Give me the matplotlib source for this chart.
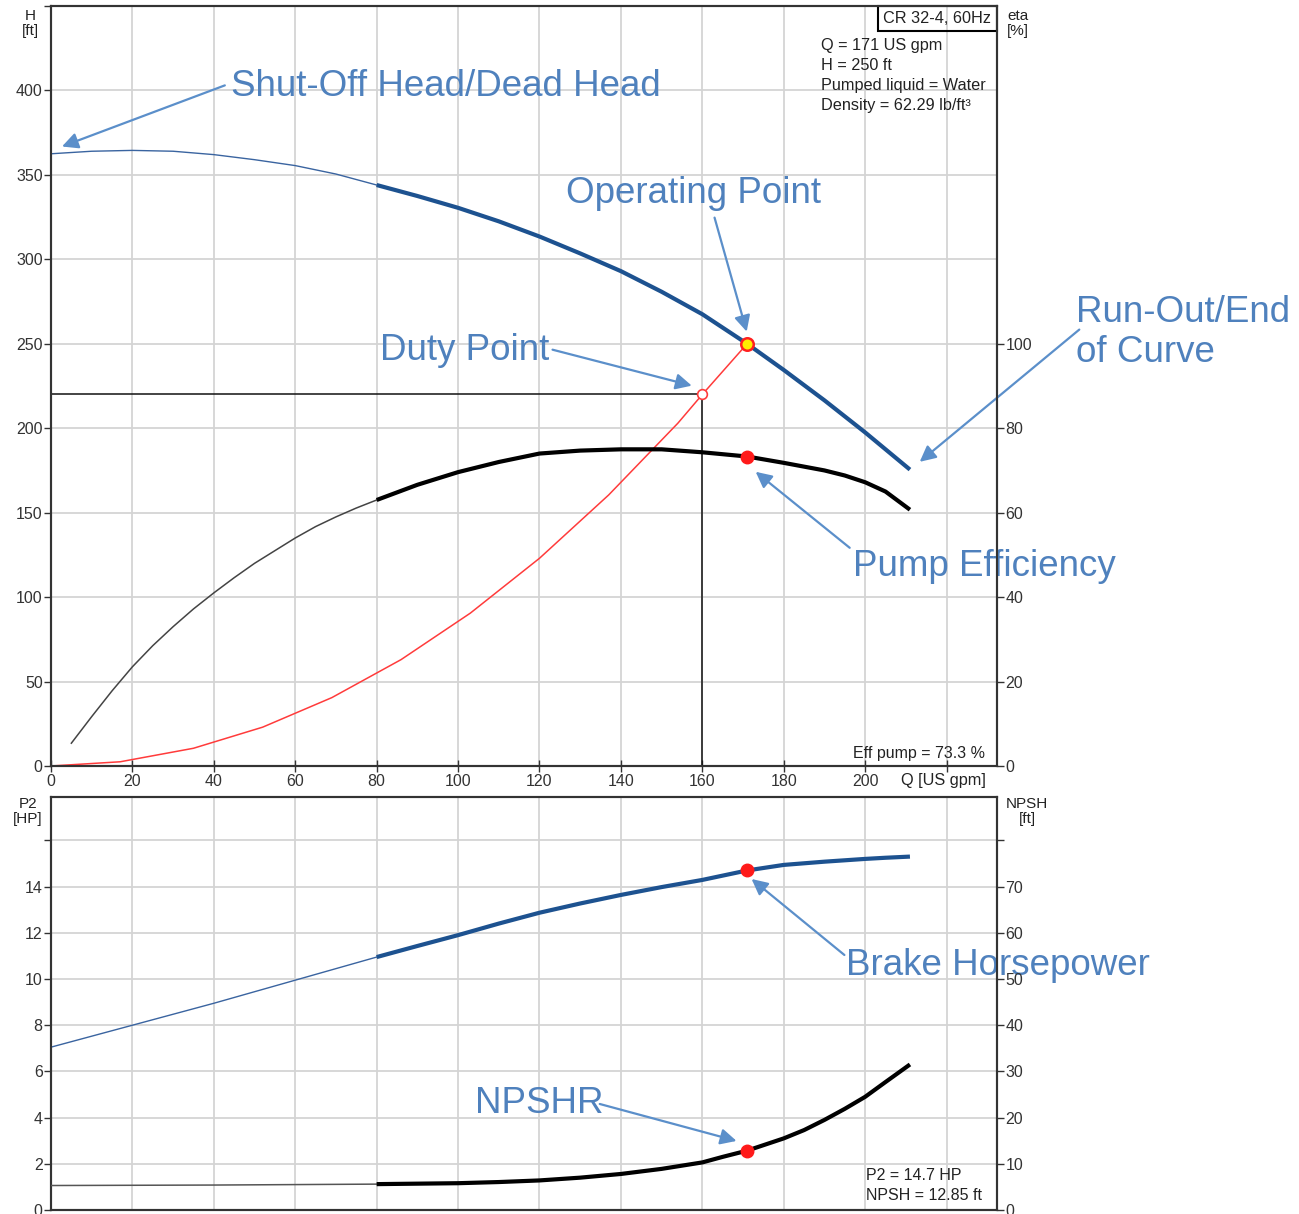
import matplotlib
matplotlib.use('Agg')
import matplotlib.pyplot as plt
from matplotlib.patches import Rectangle
import numpy as np

plt.rcParams['font.family'] = ['Liberation Sans', 'DejaVu Sans']

# pump curve readings (Q in US gpm)
q_head = [0, 10, 20, 30, 40, 50, 60, 70, 80, 90, 100, 110, 120, 130, 140, 150, 160, 171, 180, 190, 200, 211]
head = [362.5, 364, 364.5, 364, 362, 359, 355.5, 350.5, 344, 337.5, 330.5, 322.5, 313.5, 303.5, 293, 280.8,
        267.5, 250, 234.5, 216.5, 197.5, 175.5]

q_eta = [5, 10, 15, 20, 25, 30, 35, 40, 45, 50, 55, 60, 65, 70, 75, 80, 90, 100, 110, 120, 130, 140, 150,
         160, 171, 180, 190, 195, 200, 205, 211]
eta = [5.4, 11.7, 17.8, 23.5, 28.5, 33, 37.2, 41, 44.6, 48, 51, 54, 56.7, 59, 61.1, 63, 66.6, 69.6, 72, 74,
       74.7, 75, 75, 74.3, 73.3, 71.8, 70.0, 68.8, 67.2, 65.0, 60.7]

q_sys = [0, 17, 35, 52, 69, 86, 103, 120, 137, 154, 160, 171]
h_sys = [0, 2.5, 10.5, 23, 40.5, 63, 90.5, 123, 160.5, 203, 220, 250]

q_p2 = [0, 20, 40, 60, 80, 90, 100, 110, 120, 130, 140, 150, 160, 171, 180, 190, 200, 205, 211]
p2 = [7.05, 8.0, 8.95, 9.95, 10.95, 11.43, 11.9, 12.4, 12.87, 13.27, 13.64, 13.98, 14.29, 14.7, 14.94,
      15.08, 15.2, 15.25, 15.3]

q_npsh = [0, 40, 80, 100, 110, 120, 130, 140, 150, 160, 165, 171, 180, 185, 190, 195, 200, 205, 211]
npsh = [5.3, 5.4, 5.6, 5.8, 6.05, 6.4, 7.0, 7.8, 8.9, 10.3, 11.5, 12.85, 15.5, 17.3, 19.5, 21.9, 24.5,
        27.7, 31.5]

# operating / duty values
q_op, h_op, eta_op, p2_op, npsh_op = 171, 250, 73.3, 14.7, 12.85
q_duty, h_duty = 160, 220

blue = '#1d5290'
ann = '#4f81bd'
arrow_c = '#5b8fca'
grid_c = '#d4d4d4'
spine_c = '#333333'


def split(q, v, q_cut=80):
    q = np.array(q, float)
    v = np.array(v, float)
    lo = q <= q_cut
    hi = q >= q_cut
    return (q[lo], v[lo]), (q[hi], v[hi])


def style_axes(ax):
    for s in ax.spines.values():
        s.set_color(spine_c)
        s.set_linewidth(1.5)
    ax.grid(True, color=grid_c, lw=1.3)
    ax.set_axisbelow(True)


fig = plt.figure(figsize=(12.99, 12.14), dpi=100)
ax = fig.add_axes([0.03926, 0.36903, 0.7283, 0.62603])
ax2 = fig.add_axes([0.03926, 0.00330, 0.7283, 0.34019])

# ---- top panel: head, efficiency, system curve
style_axes(ax)
ax.set_xlim(0, 232.4)
ax.set_ylim(0, 450)
ax.set_xticks(range(0, 221, 20))
ax.set_xticklabels([str(v) for v in range(0, 201, 20)] + [''])
ax.set_yticks(range(0, 451, 50))
ax.set_yticklabels([str(v) for v in range(0, 401, 50)] + [''])
ax.tick_params(axis='x', direction='inout', length=9, width=1, labelsize=11.5, pad=1, colors=spine_c)
ax.tick_params(axis='y', direction='out', length=5, width=1, labelsize=11.5, pad=1, colors=spine_c)

(ql, hl), (qh, hh) = split(q_head, head)
ax.plot(ql, hl, color='#3a64a0', lw=1.0, zorder=3)
ax.plot(qh, hh, color=blue, lw=3.0, zorder=3, solid_capstyle='butt')

ax.plot(q_sys, h_sys, color='#ff3b3b', lw=1.1, zorder=4)
ax.plot([0, q_duty, q_duty], [h_duty, h_duty, 0], color='#111111', lw=1.1, zorder=3)
ax.plot(q_duty, h_duty, 'o', ms=7, mfc='white', mec='#ff3b3b', mew=1.2, zorder=6)
ax.plot(q_op, h_op, 'o', ms=9, mfc='#ffee00', mec='#ff2020', mew=1.8, zorder=6)

axe = ax.twinx()
axe.set_ylim(0, 180)
axe.set_yticks(range(0, 101, 20))
axe.tick_params(axis='y', direction='out', length=5, width=1, labelsize=11.5, pad=1, colors=spine_c)
for s in axe.spines.values():
    s.set_color(spine_c)
    s.set_linewidth(1.5)
(ql, el), (qh, eh) = split(q_eta, eta)
axe.plot(ql, el, color='#444444', lw=1.1, zorder=3)
axe.plot(qh, eh, color='black', lw=3.0, zorder=3, solid_capstyle='butt')
axe.plot(q_op, eta_op, 'o', ms=9, color='#ff1a1a', zorder=6)

# info box
ax.add_patch(Rectangle((0.8742, 0.9671), 0.1258, 0.0329, transform=ax.transAxes,
                       fill=False, ec='black', lw=1.5, zorder=7, clip_on=False))
ax.text(0.879, 0.984, 'CR 32-4, 60Hz', transform=ax.transAxes, fontsize=11.7,
        va='center', ha='left', color='#222222', zorder=8)
info = ['Q = 171 US gpm', 'H = 250 ft', 'Pumped liquid = Water', 'Density = 62.29 lb/ft³']
for i, line in enumerate(info):
    ax.text(0.814, 0.9475 - i * 0.0263, line, transform=ax.transAxes, fontsize=11.7,
            va='center', ha='left', color='#222222')
ax.text(0.987, 0.017, 'Eff pump = 73.3 %', transform=ax.transAxes, fontsize=11.5,
        ha='right', va='center', color='#222222')
ax.text(0.988, -0.019, 'Q [US gpm]', transform=ax.transAxes, fontsize=11.7,
        ha='right', va='center', color='#222222')

# ---- bottom panel: P2 and NPSH
style_axes(ax2)
ax2.set_xlim(0, 232.4)
ax2.set_ylim(0, 17.88)
ax2.set_xticks(range(0, 221, 20))
ax2.set_xticklabels([])
ax2.tick_params(axis='x', length=0)
ax2.set_yticks(range(0, 17, 2))
ax2.set_yticklabels([str(v) for v in range(0, 15, 2)] + [''])
ax2.tick_params(axis='y', direction='out', length=5, width=1, labelsize=11.5, pad=1, colors=spine_c)

(ql, pl), (qh, ph) = split(q_p2, p2)
ax2.plot(ql, pl, color='#3a64a0', lw=1.0, zorder=3)
ax2.plot(qh, ph, color=blue, lw=3.0, zorder=3, solid_capstyle='butt')
ax2.plot(q_op, p2_op, 'o', ms=9, color='#ff1a1a', zorder=6)

axn = ax2.twinx()
axn.set_ylim(0, 89.4)
axn.set_yticks(range(0, 81, 10))
axn.set_yticklabels([str(v) for v in range(0, 71, 10)] + [''])
axn.tick_params(axis='y', direction='out', length=5, width=1, labelsize=11.5, pad=1, colors=spine_c)
for s in axn.spines.values():
    s.set_color(spine_c)
    s.set_linewidth(1.5)
(ql, nl), (qh, nh) = split(q_npsh, npsh)
axn.plot(ql, nl, color='#555555', lw=1.1, zorder=3)
axn.plot(qh, nh, color='black', lw=3.0, zorder=3, solid_capstyle='butt')
axn.plot(q_op, npsh_op, 'o', ms=9, color='#ff1a1a', zorder=6)

ax2.text(0.861, 0.084, 'P2 = 14.7 HP', transform=ax2.transAxes, fontsize=11.5,
         ha='left', va='center', color='#222222')
ax2.text(0.861, 0.035, 'NPSH = 12.85 ft', transform=ax2.transAxes, fontsize=11.5,
         ha='left', va='center', color='#222222')

# axis unit labels
lab = dict(fontsize=11, ha='center', va='top', linespacing=1.05, color='#222222')
fig.text(30 / 1299, 1 - 9 / 1214, 'H\n[ft]', **lab)
fig.text(1018 / 1299, 1 - 9 / 1214, 'eta\n[%]', **lab)
fig.text(28 / 1299, 1 - 797 / 1214, 'P2\n[HP]', **lab)
fig.text(1027 / 1299, 1 - 797 / 1214, 'NPSH\n[ft]', **lab)

# callouts: text first, then the arrow from its tail to the tip
ap = dict(arrowstyle='-|>', color=arrow_c, lw=1.6, mutation_scale=24, shrinkA=0, shrinkB=0)
tk = dict(fontsize=26.5, color=ann, va='center', ha='left', annotation_clip=False)


def callout(a, text, tx, ty, tail, tip, **kw):
    a.annotate(text, xy=tip, xytext=(tx, ty), **tk, **kw)
    a.annotate('', xy=tip, xytext=tail, arrowprops=ap, annotation_clip=False)


callout(ax, 'Shut-Off Head/Dead Head', 44.2, 402.6, (42.7, 403), (2.7, 366.8))
callout(ax, 'Operating Point', 126.4, 339.2, (163, 324.7), (170.9, 257.2))
callout(ax, 'Duty Point', 80.8, 246.2, (123.2, 246.5), (157.4, 225.2))
callout(ax, 'Run-Out/End\nof Curve', 251.7, 256.5, (252.6, 258.4), (213.4, 180.1), linespacing=1.18)
callout(ax, 'Pump Efficiency', 196.9, 118.2, (196.2, 129.2), (173.1, 174.2))
callout(ax2, 'Brake Horsepower', 195.4, 10.6, (194.9, 11.04), (172.1, 14.33))
callout(ax2, 'NPSHR', 104.1, 4.61, (134.8, 4.59), (168.4, 2.99))

plt.savefig('out.png', dpi=100)
